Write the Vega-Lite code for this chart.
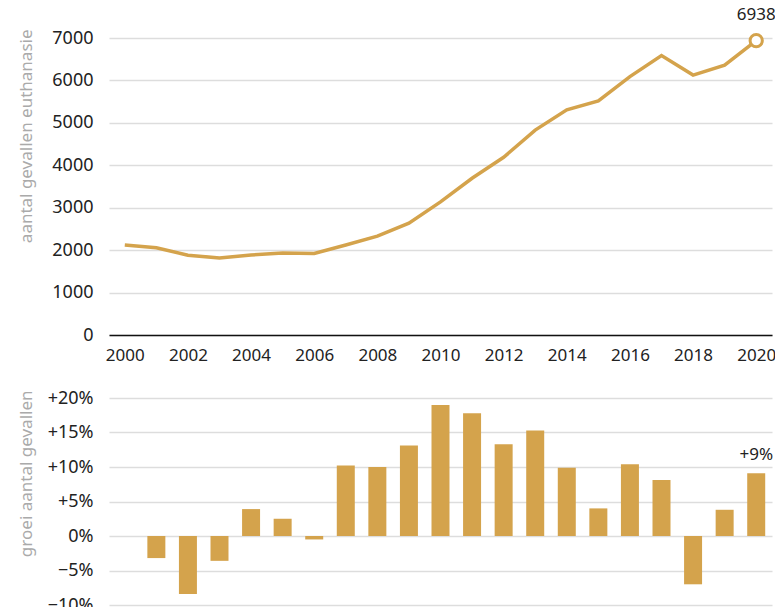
{
  "$schema": "https://vega.github.io/schema/vega-lite/v6.json",
  "padding": {"left": 17, "top": 5, "right": 0, "bottom": 0},
  "background": "white",
  "config": {
    "font": "Noto Sans",
    "view": {"stroke": null},
    "axis": {"labelFont": "Noto Sans", "titleFont": "Noto Sans", "labelFontSize": 18, "labelColor": "#222222", "ticks": false, "domain": false, "gridColor": "#dddddd", "gridWidth": 1.5, "labelOverlap": false}
  },
  "datasets": {
    "d": [
      {"year": 2000, "cases": 2123, "growth": null},
      {"year": 2001, "cases": 2054, "growth": -3.2},
      {"year": 2002, "cases": 1882, "growth": -8.4},
      {"year": 2003, "cases": 1815, "growth": -3.6},
      {"year": 2004, "cases": 1886, "growth": 3.9},
      {"year": 2005, "cases": 1933, "growth": 2.5},
      {"year": 2006, "cases": 1923, "growth": -0.5},
      {"year": 2007, "cases": 2120, "growth": 10.2},
      {"year": 2008, "cases": 2331, "growth": 10.0},
      {"year": 2009, "cases": 2636, "growth": 13.1},
      {"year": 2010, "cases": 3136, "growth": 19.0},
      {"year": 2011, "cases": 3695, "growth": 17.8},
      {"year": 2012, "cases": 4188, "growth": 13.3},
      {"year": 2013, "cases": 4829, "growth": 15.3},
      {"year": 2014, "cases": 5306, "growth": 9.9},
      {"year": 2015, "cases": 5516, "growth": 4.0},
      {"year": 2016, "cases": 6091, "growth": 10.4},
      {"year": 2017, "cases": 6585, "growth": 8.1},
      {"year": 2018, "cases": 6126, "growth": -7.0},
      {"year": 2019, "cases": 6361, "growth": 3.8},
      {"year": 2020, "cases": 6938, "growth": 9.1}
    ]
  },
  "vconcat": [
    {
      "width": 663,
      "height": 297,
      "data": {"name": "d"},
      "encoding": {
        "x": {"field": "year", "type": "ordinal", "scale": {"type": "point", "padding": 0.5},
              "axis": {"values": [2000, 2002, 2004, 2006, 2008, 2010, 2012, 2014, 2016, 2018, 2020], "labelAngle": 0, "labelFontSize": 17, "grid": false, "domain": true, "domainColor": "#111111", "domainWidth": 1.5, "labelPadding": 12, "title": null}},
        "y": {"field": "cases", "type": "quantitative", "scale": {"domain": [0, 7000], "nice": false},
              "axis": {"values": [0, 1000, 2000, 3000, 4000, 5000, 6000, 7000], "format": "d", "labelPadding": 16, "title": "aantal gevallen euthanasie", "titleColor": "#aaaaaa", "titleFontSize": 17, "titleFontWeight": "normal", "titleX": -78, "titleY": -9, "titleAlign": "right", "titleBaseline": "alphabetic", "titleAngle": 270}}
      },
      "layer": [
        {"mark": {"type": "line", "color": "#D4A34C", "strokeWidth": 3.5}},
        {"transform": [{"filter": "datum.year == 2020"}],
         "mark": {"type": "point", "filled": true, "fill": "white", "stroke": "#D4A34C", "strokeWidth": 3, "size": 150, "opacity": 1}},
        {"transform": [{"filter": "datum.year == 2020"}],
         "mark": {"type": "text", "dy": -21, "baseline": "alphabetic", "fontSize": 17, "color": "#222222"},
         "encoding": {"text": {"field": "cases", "type": "quantitative", "format": "d"}}}
      ]
    },
    {
      "width": 663,
      "height": 207,
      "data": {"name": "d"},
      "encoding": {
        "x": {"field": "year", "type": "ordinal", "scale": {"type": "band", "domain": [2000,2001,2002,2003,2004,2005,2006,2007,2008,2009,2010,2011,2012,2013,2014,2015,2016,2017,2018,2019,2020], "paddingInner": 0.43, "paddingOuter": 0.215}, "axis": null},
        "y": {"field": "growth", "type": "quantitative", "scale": {"domain": [-10, 20], "nice": false},
           "axis": {"values": [-10, -5, 0, 5, 10, 15, 20], "labelExpr": "datum.value > 0 ? '+' + datum.value + '%' : (datum.value < 0 ? '\u2212' + abs(datum.value) + '%' : '0%')", "labelPadding": 16, "title": "groei aantal gevallen", "titleColor": "#aaaaaa", "titleFontSize": 17, "titleFontWeight": "normal", "titleX": -78, "titleY": -8, "titleAlign": "right", "titleBaseline": "alphabetic", "titleAngle": 270}}
      },
      "layer": [
        {"mark": {"type": "bar", "color": "#D4A34C"}},
        {"transform": [{"filter": "datum.year == 2000"}], "mark": {"type": "rule", "color": "#666666", "strokeWidth": 1.5},
         "encoding": {"x": {"value": 0}, "x2": {"value": 663}, "y": {"datum": 0, "type": "quantitative"}}},
        {"transform": [{"filter": "datum.year == 2020"}],
         "mark": {"type": "text", "dy": -13, "baseline": "alphabetic", "fontSize": 17, "color": "#222222"},
         "encoding": {"text": {"value": "+9%"}}}
      ]
    }
  ],
  "spacing": 26
}
